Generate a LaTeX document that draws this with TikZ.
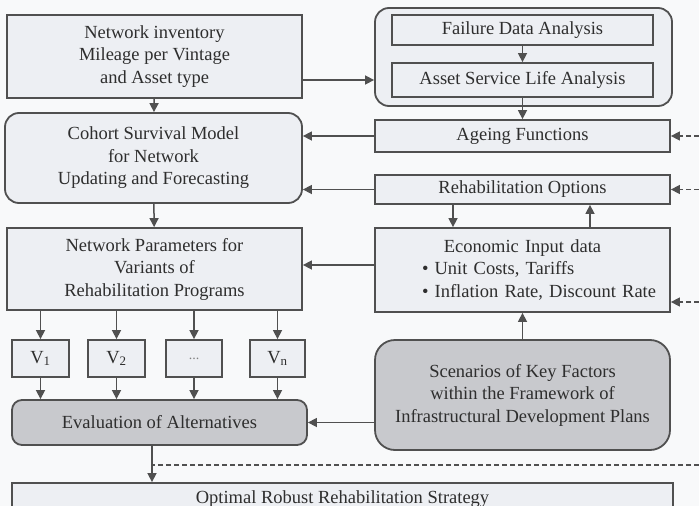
\documentclass[tikz,border=0pt]{standalone}
\usepackage{fontspec}
\setmainfont{Liberation Serif}
\usetikzlibrary{arrows.meta}
\definecolor{bgc}{HTML}{F8F9FA}
\definecolor{boxc}{HTML}{EDEFF3}
\definecolor{darkc}{HTML}{C8C9CD}
\definecolor{bordc}{HTML}{505050}
\definecolor{txtc}{HTML}{2E2E2E}
\newcommand{\boxfont}{\fontsize{18.5}{22.5}\selectfont}
\begin{document}
\begin{tikzpicture}[x=1pt,y=-1pt,
  box/.style={draw=bordc, line width=1.8pt, fill=boxc, text=txtc, align=center,
    inner sep=0pt, font=\boxfont},
  roundbox/.style={box, rounded corners=14pt},
  darkbox/.style={box, fill=darkc, rounded corners=#1},
  arr/.style={draw=bordc, line width=1.5pt, -{Triangle[length=9pt,width=9pt]}},
  plain/.style={draw=bordc, line width=1.5pt},
  dasharr/.style={arr, dash pattern=on 5pt off 3pt},
  dashline/.style={plain, dash pattern=on 5pt off 3pt}]
\useasboundingbox[fill=bgc] (0,0) rectangle (699,506);
\clip (0,0) rectangle (699,506);

% left column
\node[box, minimum width=295pt, minimum height=83pt] (netinv) at (154.5,56.5)
  {Network inventory\\Mileage per Vintage\\and Asset type};
\node[roundbox, minimum width=297pt, minimum height=90pt] (cohort) at (153.5,158)
  {Cohort Survival Model\\for Network\\Updating and Forecasting};
\node[box, minimum width=295pt, minimum height=82pt] (netpar) at (154.5,269)
  {Network Parameters for\\Variants of\\Rehabilitation Programs};

% variants
\node[box, minimum width=57pt, minimum height=37pt] (v1) at (40.5,358.5) {V\textsubscript{1}};
\node[box, minimum width=57pt, minimum height=37pt] (v2) at (116.5,358.5) {V\textsubscript{2}};
\node[box, minimum width=56pt, minimum height=37pt] (vd) at (194,358.5)
  {\fontsize{14}{16}\selectfont\textcolor{gray}{...}};
\node[box, minimum width=55pt, minimum height=37pt] (vn) at (277.5,358.5) {V\textsubscript{n}};

\node[darkbox=10pt, minimum width=295pt, minimum height=45pt] (eval) at (159.5,422.5)
  {Evaluation of Alternatives};
\node[box, minimum width=661pt, minimum height=32pt] (opt) at (342.5,499)
  {Optimal Robust Rehabilitation Strategy};

% right column
\node[roundbox, fill=boxc, minimum width=297pt, minimum height=98pt] (grp) at (523.5,57) {};
\node[box, minimum width=261pt, minimum height=30pt] (fail) at (522.5,30)
  {Failure Data Analysis};
\node[box, minimum width=261pt, minimum height=34pt] (life) at (522.5,80)
  {Asset Service Life Analysis};
\node[box, minimum width=295pt, minimum height=32pt] (age) at (522.5,136)
  {Ageing Functions};
\node[box, minimum width=295pt, minimum height=29pt] (rehab) at (522.5,189.5)
  {Rehabilitation Options};
\node[box, minimum width=295pt, minimum height=84pt, text width=285pt, align=left] (econ) at (522.5,270)
  {\hfill Economic Input data\hfill\null\\
   \hspace*{42pt}\textbullet\ Unit Costs, Tariffs\\
   \hspace*{42pt}\textbullet\ Inflation Rate, Discount Rate};
\node[darkbox=20pt, minimum width=295pt, minimum height=110pt] (scen) at (522.5,395)
  {Scenarios of Key Factors\\within the Framework of\\Infrastructural Development Plans};

% free ends at the right edge
\coordinate (inAge) at (699,136);
\coordinate (inRehab) at (699,189.5);
\coordinate (inEcon) at (699,302);
\coordinate (inOpt) at (699,465);

% main flow
\draw[arr] (netinv) -- (cohort);
\draw[arr] (cohort) -- (netpar);
\draw[arr] ([yshift=-23.5pt]netinv.east) -- ([yshift=-23.5pt]netinv.east -| grp.west);
\draw[arr] (fail) -- (life);
\draw[arr] (life) -- (age);
\draw[arr] (age.west) -- (age.west -| cohort.east);
\draw[arr] (rehab.west) -- (rehab.west -| cohort.east);
\draw[arr] ([yshift=5pt]econ.west) -- ([yshift=5pt]econ.west -| netpar.east);
\draw[arr] ([xshift=-69.5pt]rehab.south) -- ([xshift=-69.5pt]econ.north);
\draw[arr] ([xshift=67.5pt]econ.north) -- ([xshift=67.5pt]rehab.south);
\draw[arr] (scen) -- (econ);
\draw[arr] (scen.west |- eval.east) -- (eval.east);

% variants
\foreach \v in {v1,v2,vd,vn}{
  \draw[arr] (netpar.south -| \v) -- (\v);
  \draw[arr] (\v) -- (\v |- eval.north);
}
\coordinate (evOut) at ([xshift=-7.5pt]eval.south);
\draw[arr] (evOut) -- (evOut |- opt.north);

% external influences
\draw[dasharr] (inAge) -- (age.east);
\draw[dasharr] (inRehab) -- (rehab.east);
\draw[dasharr] (inEcon) -- (inEcon -| econ.east);
\draw[dashline] (inOpt) -- (inOpt -| evOut);
\end{tikzpicture}
\end{document}
